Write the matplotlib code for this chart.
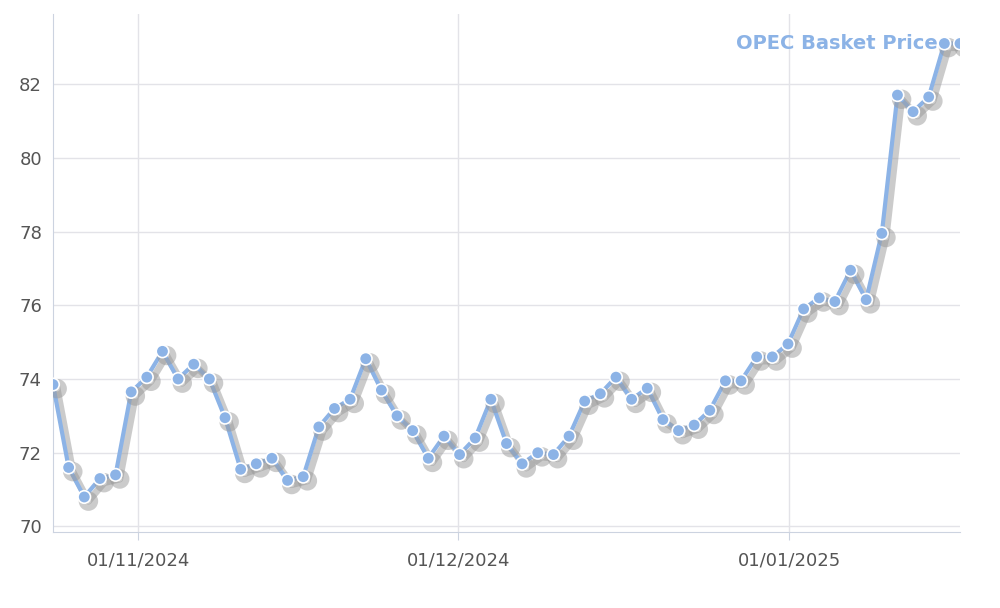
import matplotlib
matplotlib.use("Agg")
import matplotlib.pyplot as plt
import matplotlib.patheffects as pe
import matplotlib.dates as mdates
import pandas as pd

values = [73.85, 71.6, 70.8, 71.3, 71.4, 73.65, 74.05, 74.75, 74.0, 74.4, 74.0, 72.95, 71.55, 71.7, 71.85,
          71.25, 71.35, 72.7, 73.2, 73.45, 74.55, 73.7, 73.0, 72.6, 71.85, 72.45, 71.95, 72.4, 73.45, 72.25,
          71.7, 72.0, 71.95, 72.45, 73.4, 73.6, 74.05, 73.45, 73.75, 72.9, 72.6, 72.75, 73.15, 73.95, 73.95,
          74.6, 74.6, 74.95, 75.9, 76.2, 76.1, 76.95, 76.15, 77.95, 81.7, 81.25, 81.65, 83.1, 83.1]
start = pd.Timestamp("2024-10-24")
end = pd.Timestamp("2025-01-17")
dates = pd.date_range(start, end, periods=len(values))
series_name = "OPEC Basket Price"
yticks = [70, 72, 74, 76, 78, 80, 82]
month_ticks = pd.to_datetime(["2024-11-01", "2024-12-01", "2025-01-01"])

fig = plt.figure(figsize=(10, 6.08), dpi=100)
ax = fig.add_axes([0.053, 0.125, 0.907, 0.852])
color = "#8cb3e6"
ax.plot(dates, values, color=color, lw=3, marker="o", ms=9, mec="white", mew=1.2, zorder=3,
        path_effects=[pe.SimpleLineShadow(offset=(3, -3), shadow_color="#999999", alpha=0.5, linewidth=5), pe.Normal()])
ax.set_xlim(dates[0], dates[-1])
ax.set_ylim(69.85, 83.9)
ax.set_yticks(yticks)
ax.set_xticks(month_ticks)
ax.xaxis.set_major_formatter(mdates.DateFormatter("%d/%m/%Y"))
ax.grid(True, color="#e3e3e8", lw=1)
ax.set_axisbelow(True)
for s in ["top", "right"]:
    ax.spines[s].set_visible(False)
for s in ["left", "bottom"]:
    ax.spines[s].set_color("#ccd3e0")
ax.tick_params(axis="both", colors="#ccd3e0", labelcolor="#555555", labelsize=13)
ax.tick_params(axis="y", length=0, pad=8)
ax.tick_params(axis="x", length=6, pad=8)
ax.text(dates[-2], values[-2], series_name + " ", color="#8cb3e6", fontsize=14, fontweight="bold",
        ha="right", va="center")
fig.savefig("out.png")
